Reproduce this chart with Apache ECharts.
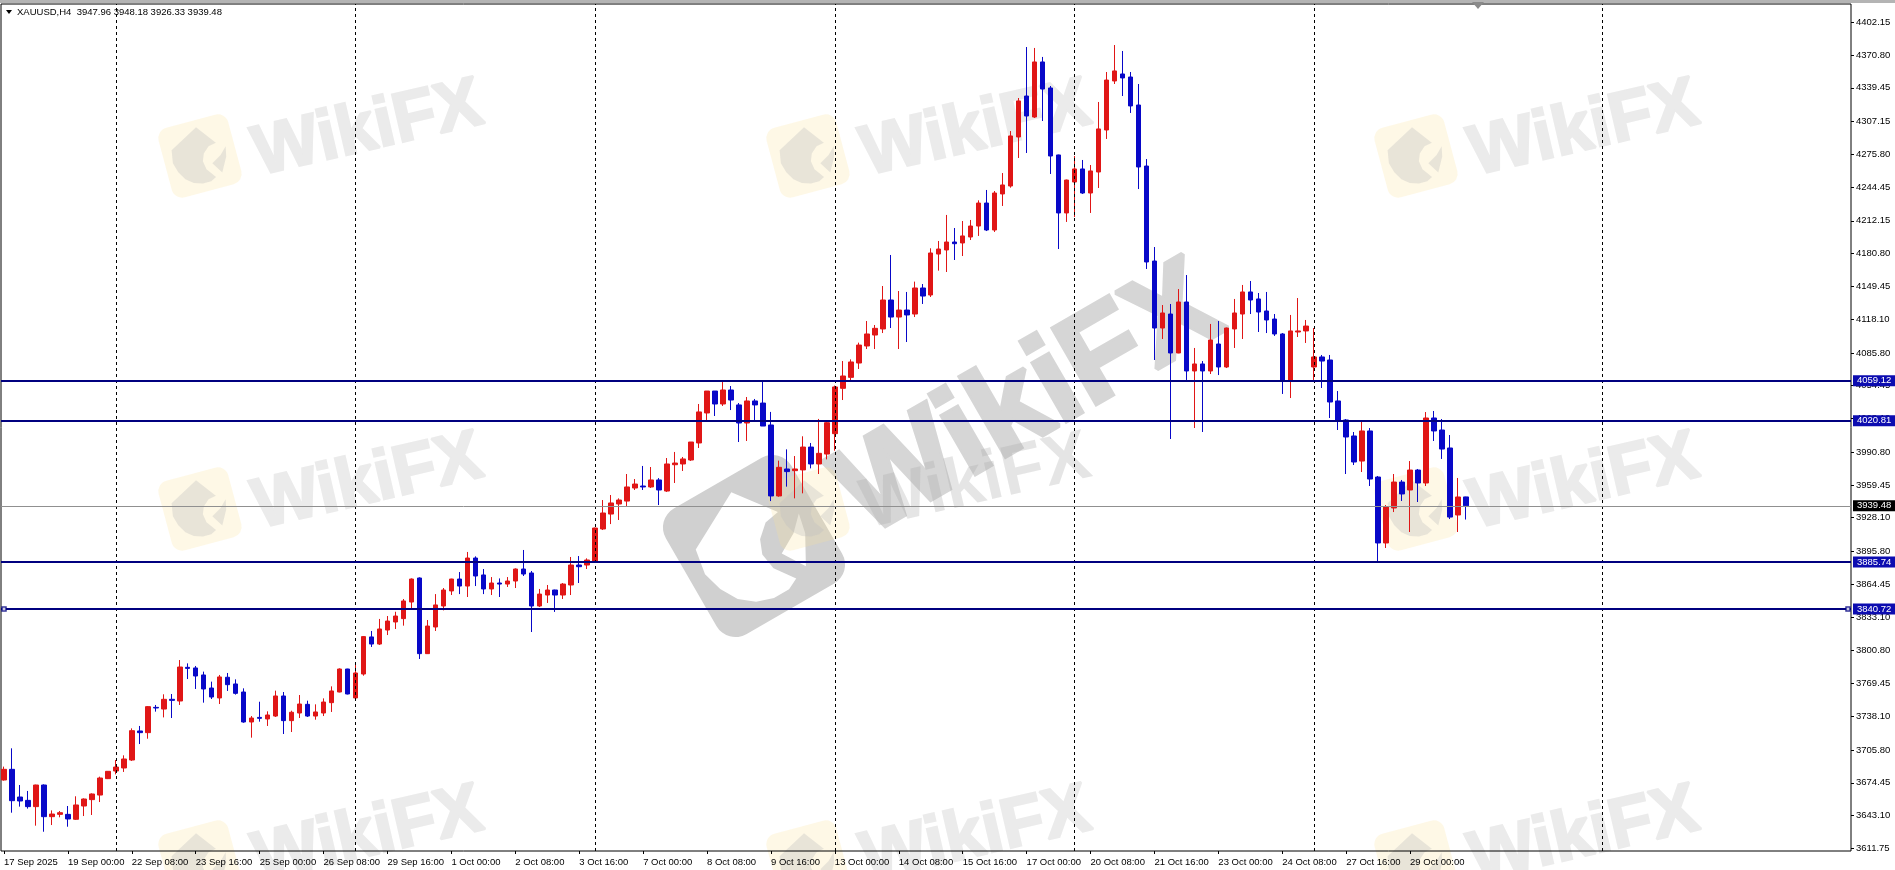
<!DOCTYPE html>
<html><head><meta charset="utf-8">
<script src="https://cdn.jsdelivr.net/npm/echarts@6/dist/echarts.min.js"></script>
<style>html,body{margin:0;padding:0;background:#fff}#c{width:1895px;height:870px}</style>
</head><body><div id="c"></div>
<script>
const tickLabels = ['17 Sep 2025','19 Sep 00:00','22 Sep 08:00','23 Sep 16:00','25 Sep 00:00','26 Sep 08:00','29 Sep 16:00','1 Oct 00:00','2 Oct 08:00','3 Oct 16:00','7 Oct 00:00','8 Oct 08:00','9 Oct 16:00','13 Oct 00:00','14 Oct 08:00','15 Oct 16:00','17 Oct 00:00','20 Oct 08:00','21 Oct 16:00','23 Oct 00:00','24 Oct 08:00','27 Oct 16:00','29 Oct 00:00'];
const priceTicks = [4402.15,4370.80,4339.45,4307.15,4275.80,4244.45,4212.15,4180.80,4149.45,4118.10,4085.80,4054.45,4023.10,3990.80,3959.45,3928.10,3895.80,3864.45,3833.10,3800.80,3769.45,3738.10,3705.80,3674.45,3643.10,3611.75];
const levels = [4059.12,4020.81,3885.74,3840.72];
const lastPrice = 3939.48;
const gridBars = [14,44,74,104,134,164,200];
const handleLevel = 3840.72;

const opens = [3677.1,3687.3,3660.8,3657.6,3651.6,3672.3,3642.0,3644.2,3644.2,3639.5,
3652.2,3658.3,3662.7,3678.4,3685.7,3688.6,3696.2,3724.0,3722.4,3746.6,
3745.0,3754.3,3752.7,3784.9,3784.3,3777.6,3765.1,3755.6,3775.4,3769.0,
3761.3,3732.6,3737.0,3735.5,3738.3,3757.5,3733.9,3741.2,3749.5,3738.3,
3741.2,3751.1,3761.3,3783.3,3755.6,3778.5,3814.0,3807.2,
3820.6,3828.3,3831.5,3847.4,3870.4,3798.0,3823.5,3843.6,3858.0,3869.4,3862.7,3889.5,3873.3,3859.9,3865.6,3864.6,3867.5,3879.0,3875.2,3843.6,3854.1,3858.9,3854.1,3863.7,3882.8,3882.8,3885.7,3917.3,3931.6,3941.2,3944.0,3956.5,3958.4,3957.5,3964.2,3953.6,3978.8,3979.5,3983.3,3999.6,4028.3,4049.3,4036.9,4050.3,4036.0,4018.7,4039.8,4037.8,4016.8,
3948.9,3974.7,3973.1,3973.8,3995.7,3979.5,3989.0,4008.5,
4051.9,4062.4,4076.1,4092.4,4102.9,4108.7,4136.4,4120.1,4126.8,4123.0,4147.9,4141.2,4180.4,4184.3,4191.9,4191.0,4196.7,4207.2,4229.2,4203.4,4237.9,4245.5,4292.4,4331.6,4311.5,4364.2,4339.3,4275.2,4219.7,4249.3,4261.8,4238.8,4258.9,4299.1,4346.0,4352.7,4349.8,4323.0,4264.6,4173.7,
4109.6,4123.0,4085.7,4134.5,4068.5,4075.2,4068.5,4094.3,4072.3,4108.7,4123.0,4144.1,4137.4,4125.9,4118.2,4103.9,4058.9,4105.8,4106.8,4072.3,4081.9,4079.0,4039.8,4021.6,4006.3,3982.3,4011.1,3967.0,3903.9,3937.4,3962.2,3954.6,3973.7,3961.3,4023.5,4012.0,3994.8,3930.7,3947.96];

const closes = [3687.3,3657.3,3657.0,3651.6,3672.3,3642.0,3644.5,3645.8,3639.8,3653.2,
3658.9,3663.7,3679.0,3685.4,3689.5,3697.2,3724.3,3722.4,3747.3,3746.0,
3754.3,3753.3,3785.2,3783.9,3776.6,3764.2,3756.5,3775.7,3768.3,3760.0,
3732.6,3736.4,3736.1,3739.3,3757.5,3733.9,3741.9,3749.8,3738.3,3742.2,
3751.7,3762.3,3783.3,3759.4,3779.5,3814.3,3807.2,3821.6,
3829.2,3834.0,3848.4,3869.4,3798.0,3824.4,3844.6,3858.9,3869.4,3862.7,3889.5,3872.3,3859.9,3865.6,3864.6,3867.5,3879.0,3874.2,3843.6,3855.0,3858.9,3854.1,3864.6,3882.8,3881.2,3887.6,3918.2,3932.6,3942.2,3945.0,3957.5,3960.3,3957.5,3964.2,3954.6,3979.5,3980.4,3984.3,4000.5,4029.3,4049.3,4036.9,4050.3,4040.7,4018.7,4039.8,4036.0,4015.8,3948.9,
3976.3,3972.2,3974.7,3995.7,3979.5,3989.7,4019.0,4053.2,
4063.7,4077.1,4093.3,4103.9,4109.3,4136.4,4120.1,4126.8,4122.1,4147.9,4140.2,4181.4,4185.2,4191.9,4190.3,4197.7,4207.2,4229.2,4203.4,4238.8,4246.5,4293.4,4326.9,4312.5,4364.2,4338.3,4274.2,4219.7,4251.2,4261.8,4238.8,4259.9,4300.1,4346.9,4355.6,4348.9,4322.1,4263.7,4172.8,4109.6,
4124.0,4085.7,4134.5,4068.5,4075.2,4068.5,4098.1,4072.3,4109.6,4124.0,4144.1,4136.4,4124.9,4117.3,4103.9,4058.9,4106.8,4106.8,4111.5,4081.9,4078.0,4038.8,4020.6,4005.3,3981.4,4011.1,3965.1,3903.9,3938.3,3962.2,3950.8,3973.7,3961.3,4023.5,4011.1,3993.8,3928.7,3947.9,3939.48];

const highs = [3689.9,3707.4,3672.3,3666.6,3672.6,3672.9,3648.0,3647.4,3652.2,3661.5,
3659.5,3664.3,3680.3,3685.7,3696.2,3700.7,3726.5,3728.8,3747.9,3748.9,
3759.1,3759.4,3791.9,3788.7,3786.2,3780.8,3771.2,3777.6,3779.5,3773.4,
3764.8,3738.3,3752.0,3742.8,3762.6,3761.3,3743.4,3758.4,3753.0,3749.5,
3755.2,3766.7,3783.9,3783.5,3788.7,3814.9,3819.7,3831.2,
3834.0,3838.1,3850.3,3870.0,3871.0,3830.2,3855.0,3860.8,3869.7,3876.1,3895.3,3891.1,3879.0,3871.3,3870.0,3871.3,3879.6,3897.2,3877.1,3859.9,3863.7,3859.2,3865.6,3890.5,3891.4,3889.2,3918.6,3945.0,3949.8,3946.6,3969.9,3965.1,3977.6,3976.6,3966.0,3985.2,3991.0,3986.2,4000.5,4036.9,4049.3,4049.3,4057.9,4054.1,4037.8,4043.6,4041.7,4058.9,4029.3,
3982.7,3993.5,3987.1,4006.0,3999.6,4022.6,4020.0,4054.5,
4078.0,4079.6,4095.6,4116.3,4112.5,4149.8,4179.5,4145.0,4144.1,4154.0,4151.7,4185.9,4192.9,4217.8,4205.3,4212.0,4213.0,4231.8,4241.7,4240.7,4257.9,4298.1,4329.7,4378.5,4377.6,4369.0,4341.2,4275.5,4251.6,4274.2,4270.4,4265.6,4325.9,4354.6,4380.4,4374.7,4354.6,4343.1,4271.3,4187.1,
4131.6,4132.6,4146.9,4160.3,4090.5,4078.0,4113.5,4116.3,4110.0,4137.4,4150.8,4154.6,4143.1,4144.1,4123.0,4104.8,4122.1,4138.3,4117.3,4109.6,4083.8,4083.8,4049.3,4022.5,4010.1,4019.7,4013.9,3968.0,3940.2,3969.9,3964.2,3982.3,3974.7,4029.2,4030.2,4022.5,4007.2,3966.1,3948.18];

const lows = [3676.5,3645.8,3651.6,3649.7,3633.4,3627.6,3634.0,3641.4,3632.4,3638.8,
3642.6,3643.6,3656.0,3678.0,3682.5,3684.8,3695.3,3711.5,3716.6,3742.5,
3737.0,3736.4,3748.9,3773.7,3764.2,3751.1,3754.6,3749.8,3762.3,3758.8,
3731.9,3717.6,3732.9,3728.8,3737.4,3721.1,3723.0,3736.4,3737.4,3734.8,
3738.3,3742.2,3761.0,3759.0,3754.6,3776.9,3804.4,3806.3,
3815.8,3821.6,3824.8,3841.4,3792.9,3797.7,3819.7,3839.4,3854.1,3855.0,3852.2,3862.7,3855.0,3854.1,3852.2,3861.8,3860.8,3872.3,3818.7,3842.6,3846.5,3837.9,3850.3,3854.1,3865.6,3879.0,3885.4,3916.3,3922.0,3925.9,3939.3,3954.6,3954.6,3956.5,3940.2,3952.7,3961.3,3972.8,3982.4,3994.8,4021.6,4025.4,4035.0,4031.1,4000.5,4001.5,4020.6,4015.8,3944.0,
3948.2,3957.8,3946.6,3951.4,3975.3,3969.9,3983.9,3992.2,
4040.7,4059.8,4070.4,4089.5,4089.5,4104.8,4109.6,4089.5,4096.2,4120.1,4132.6,4139.3,4164.5,4163.2,4174.7,4178.5,4193.8,4197.7,4202.4,4201.5,4226.4,4243.9,4272.3,4277.1,4310.6,4307.7,4257.0,4185.2,4211.1,4215.8,4237.9,4219.7,4243.6,4290.5,4343.1,4331.6,4315.4,4242.6,4166.1,4079.0,
4099.1,4003.4,4085.5,4059.9,4013.9,4010.1,4065.6,4064.6,4071.3,4090.5,4099.1,4123.0,4105.8,4104.8,4102.0,4046.5,4042.6,4101.0,4095.3,4059.9,4052.2,4023.5,4012.0,3969.9,3978.5,3971.8,3958.4,3885.7,3899.1,3933.5,3944.1,3914.4,3943.1,3958.4,4001.5,3984.3,3926.8,3914.4,3926.33];

const BAR_SLOTS = 231;
const categories = Array.from({length:BAR_SLOTS},(_,i)=> i%8===0 ? (tickLabels[i/8]||'') : '');
const candles = opens.map((o,i)=>[o,closes[i],lows[i],highs[i]]);

const Y_MIN = 3609.15, Y_MAX = 4419.66;
const UP = '#e01616', DOWN = '#0808c8', NAVY = '#00007f';
const FONT = '"Liberation Sans", Arial, sans-serif';

const EAGLE_HEAD = [[-36,-18],[5,-40],[26,-12],[15,-10],[6,-2],[2,8],[4,20],[14,34],[6,38],[-6,38],[-18,34],[-28,26],[-35,14],[-39,0]];
const EAGLE_WING = [[38,-4],[35,10],[24,30],[14,14],[28,6]];
function logo(x,y,side,deg,bg,fg,z){
  const s = side/100;
  return {type:'group',x,y,scaleX:s,scaleY:s,rotation:deg*Math.PI/180,children:[
    {type:'rect',z,shape:{x:-50,y:-50,width:100,height:100,r:15},style:{fill:bg}},
    {type:'polygon',z,shape:{points:EAGLE_HEAD},style:{fill:fg}},
    {type:'polygon',z,shape:{points:EAGLE_WING},style:{fill:fg}}
  ]};
}
function mark(x,y,size,deg,fill,sw,z){
  const style = {text:'WikiFX',fill,font:'bold '+size+'px '+FONT,textAlign:'center',textVerticalAlign:'middle'};
  if (sw) { style.stroke = fill; style.lineWidth = sw; }
  return {type:'text',z,x,y,rotation:deg*Math.PI/180,style};
}
const wm = [];
[0,608,1216].forEach(dx=>[0,353,706].forEach(dy=>{
  const middle = dx===608 && dy===353;
  if (!middle) wm.push(mark(368+dx,130+dy,70,13,'#ebebeb',2.5,-5));
}));
wm.push(logo(754,546,145,30,'#d0d0d0','#ffffff',-4));
wm.push(mark(1030,402,126,30,'#d6d6d6',5,-3));
wm.push(mark(976,483,70,13,'rgba(170,170,170,0.3)',0,-2));
[0,608,1216].forEach(dx=>[0,353,706].forEach(dy=>{
  wm.push(logo(200+dx,156+dy,72,15,'rgba(250,225,150,0.24)','rgba(190,190,190,0.34)',-1));
}));

const option = {
  animation:false,
  backgroundColor:'#ffffff',
  textStyle:{fontFamily:FONT},
  grid:[
    {left:1,top:4,width:1850,height:847,show:true,borderColor:'#000',borderWidth:1,backgroundColor:'transparent'},
    {left:-2.5,top:4,width:8*BAR_SLOTS,height:847}
  ],
  xAxis:[
    {type:'value',gridIndex:0,min:1,max:1851,show:false},
    {type:'category',gridIndex:1,data:categories,boundaryGap:true,
      axisLine:{show:false},
      axisTick:{show:true,length:3,alignWithLabel:true,interval:(i,v)=>v!=='',lineStyle:{color:'#000'}},
      axisLabel:{show:true,interval:(i,v)=>v!=='',align:'left',margin:6,color:'#000',fontSize:9.5,fontFamily:FONT},
      splitLine:{show:false}}
  ],
  yAxis:[
    {type:'value',gridIndex:0,position:'right',min:Y_MIN,max:Y_MAX,
      axisLine:{show:false},
      axisTick:{show:true,length:3,customValues:priceTicks,lineStyle:{color:'#000'}},
      axisLabel:{show:true,customValues:priceTicks,margin:5,padding:[2,0,0,0],color:'#000',fontSize:9.5,fontFamily:FONT,formatter:v=>v.toFixed(2)},
      splitLine:{show:false}},
    {type:'value',gridIndex:1,min:Y_MIN,max:Y_MAX,show:false,splitLine:{show:false}}
  ],
  graphic:{elements:[
    {type:'rect',z:20,shape:{x:0,y:0,width:1895,height:3},style:{fill:'#b4b4b4'}},
    {type:'polygon',z:21,shape:{points:[[1472,2],[1484,2],[1478,9]]},style:{fill:'#8a8a8a'}},
    {type:'polygon',z:21,shape:{points:[[6,10],[12,10],[9,14]]},style:{fill:'#000'}},
    {type:'text',z:21,x:17,y:12,style:{text:'XAUUSD,H4  3947.96 3948.18 3926.33 3939.48',fill:'#000',font:'9.5px '+FONT,textAlign:'left',textVerticalAlign:'middle'}},
    ...wm
  ]},
  series:[
    {type:'line',xAxisIndex:1,yAxisIndex:1,data:closes,showSymbol:false,silent:true,z:1,lineStyle:{opacity:0},
      markLine:{silent:true,symbol:'none',animation:false,label:{show:false},
        lineStyle:{color:'#000',type:[3,3],width:1},
        data:gridBars.map(b=>({xAxis:b}))}},
    {type:'candlestick',xAxisIndex:1,yAxisIndex:1,data:candles,barWidth:5,z:3,silent:true,
      itemStyle:{color:UP,color0:DOWN,borderColor:UP,borderColor0:DOWN,borderColorDoji:UP,borderWidth:1}},
    {type:'scatter',xAxisIndex:0,yAxisIndex:0,z:5,silent:true,symbol:'rect',symbolSize:4,
      itemStyle:{color:'#fff',borderColor:NAVY,borderWidth:1.5},
      data:[[4,handleLevel],[1848,handleLevel]],
      markLine:{silent:true,symbol:'none',animation:false,precision:2,
        data:[
          ...levels.map(v=>({yAxis:v,lineStyle:{color:NAVY,width:2,type:'solid'},
            label:{show:true,position:'end',distance:2,formatter:p=>Number(p.value).toFixed(2),color:'#fff',backgroundColor:'#0c0cb0',padding:[1,4,0,4],fontSize:9.5,fontFamily:FONT}})),
          {yAxis:lastPrice,lineStyle:{color:'#909090',width:1,type:'solid'},
            label:{show:true,position:'end',distance:2,formatter:p=>Number(p.value).toFixed(2),color:'#fff',backgroundColor:'#000',padding:[1,4,0,4],fontSize:9.5,fontFamily:FONT}}
        ]}}
  ]
};
const chart = echarts.init(document.getElementById('c'),null,{renderer:'canvas',width:1895,height:870});
chart.setOption(option);
</script></body></html>
